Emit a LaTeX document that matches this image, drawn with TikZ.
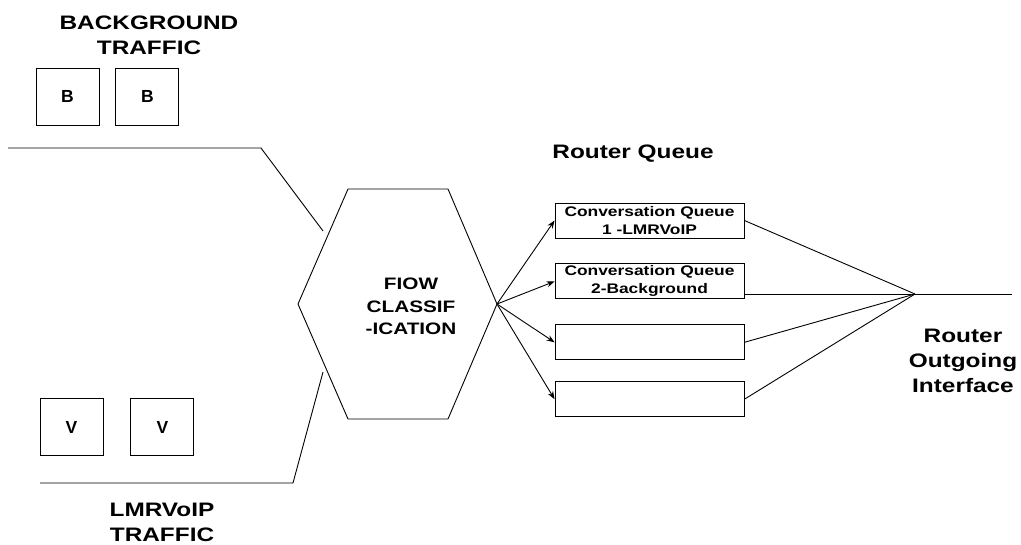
\documentclass[tikz,border=0pt]{standalone}
\usepackage{fontspec}
\setmainfont{Liberation Sans}
\newfontfamily\widesans[FakeStretch=1.25]{Liberation Sans}
\usetikzlibrary{arrows.meta,positioning}

\begin{document}
\begin{tikzpicture}[x=1pt,y=-1pt,>={Stealth[length=8pt,width=6pt]},line width=0.9pt,
  title/.style={font=\widesans\bfseries\fontsize{19.5}{25}\selectfont,align=center,inner sep=0pt},
  packet/.style={draw,minimum width=63pt,minimum height=57pt,inner sep=0pt,font=\bfseries\fontsize{17.5}{20}\selectfont},
  queue/.style={draw,minimum width=189pt,minimum height=35pt,inner sep=0pt,align=center,
    font=\widesans\bfseries\fontsize{13.9}{18}\selectfont}]

            \useasboundingbox (0,0) rectangle (1021,544);

            % incoming traffic
            \node[title,anchor=north] (bgtitle) at (149,15.5) {BACKGROUND\\TRAFFIC};
            \node[packet] (b1) at (67.5,96.5) {B};
            \node[packet] (b2) [right=16pt of b1] {B};

            \node[packet] (v1) at (71.5,427) {V};
            \node[packet] (v2) [right=27pt of v1] {V};
            \node[title,anchor=north] (lmtitle) at (162,503) {LMRVoIP\\TRAFFIC};

            \coordinate (bgstart) at (8,148);
            \coordinate (bgbend) at (261,148);
            \coordinate (bgend) at (323,231);
            \coordinate (lmstart) at (40,483);
            \coordinate (lmbend) at (293,483);
            \coordinate (lmend) at (323,372);

            \draw (bgstart) -- (bgbend) -- (bgend);
            \draw (lmstart) -- (lmbend) -- (lmend);

            % classifier
            \coordinate (hexL) at (298,304);
            \coordinate (hexR) at (497,304);
            \draw (hexL) -- (348,189) -- (448,189) -- (hexR) -- (448,419) -- (348,419) -- cycle;
            \node[align=center,inner sep=0pt,font=\widesans\bfseries\fontsize{16.6}{22.5}\selectfont]
                 (flow) at (411,306.5) {FIOW\\CLASSIF\\-ICATION};

            % queues
            \node[title,anchor=base] (rqtitle) at (633,158) {Router Queue};
            \node[queue] (q1) at (649.5,220.5) {Conversation Queue\\1 -LMRVoIP};
            \node[queue] (q2) [below=25pt of q1] {Conversation Queue\\2-Background};
            \node[queue] (q3) [below=25pt of q2] {};
            \node[queue] (q4) [below=21pt of q3] {};

            \foreach \q in {q1,q2,q3,q4}
                \draw[->] (hexR) -- (\q.west);

            % outgoing interface
            \coordinate (join) at (915,294);
            \coordinate (iface) at (1012,294);
            \draw (q1.east) -- (join);
            \draw (q2.east |- join) -- (join);
            \draw (q3.east) -- (join);
            \draw (q4.east) -- (join);
            \draw (join) -- (iface);
            \node[title,anchor=north] (iftitle) at (963,329) {Router\\Outgoing\\Interface};

        \end{tikzpicture}
\end{document}
